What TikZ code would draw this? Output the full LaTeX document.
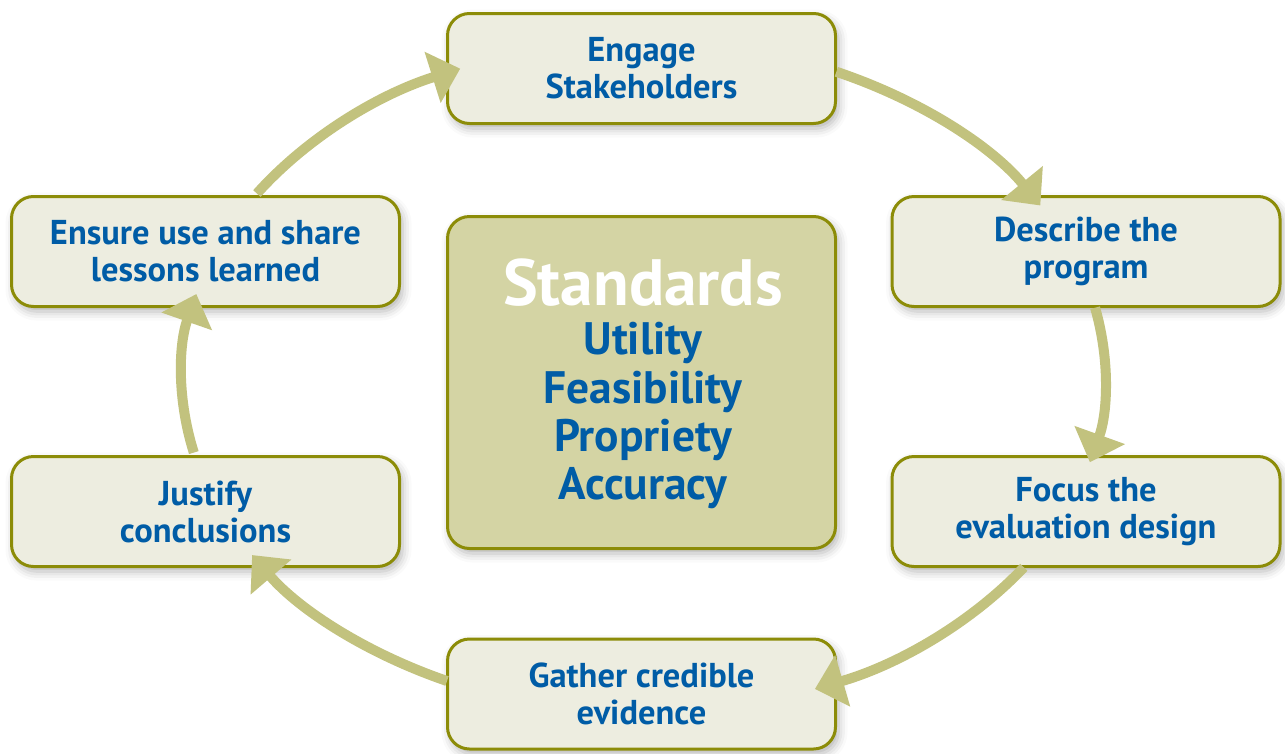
\documentclass[tikz,border=0pt]{standalone}
\usepackage{fontspec}
\setmainfont{PT Sans}
\usetikzlibrary{arrows.meta,calc,shadows.blur}
\definecolor{boxfill}{RGB}{237,237,224}
\definecolor{boxline}{RGB}{140,140,8}
\definecolor{centerfill}{RGB}{212,212,164}
\definecolor{arrowcol}{RGB}{194,194,126}
\definecolor{txtblue}{RGB}{0,92,166}
\tikzset{
  stepbox/.style={draw=boxline, line width=3pt, fill=boxfill, rounded corners=22pt,
    minimum width=388pt, minimum height=110pt, inner sep=0pt, align=center,
    text=txtblue, font=\bfseries\fontsize{34.5}{37}\selectfont,
    blur shadow={shadow xshift=3pt, shadow yshift=-5pt, shadow blur radius=9pt, shadow opacity=30}},
  centerbox/.style={draw=boxline, line width=3pt, fill=centerfill, rounded corners=22pt,
    minimum width=388pt, minimum height=332pt, inner sep=0pt,
    blur shadow={shadow xshift=3pt, shadow yshift=-5pt, shadow blur radius=9pt, shadow opacity=30}},
  stdline/.style={anchor=base, text=txtblue, font=\bfseries\fontsize{45.5}{48}\selectfont, inner sep=0pt},
  flow/.style={draw=arrowcol, line width=10pt, -{Triangle[length=29pt,width=52pt]}},
}
\begin{document}
\begin{tikzpicture}[x=1pt,y=1pt]
\useasboundingbox (0,0) rectangle (1285,-753);
\coordinate (c) at (643.5,-377);
% boxes
\node[stepbox] (eng) at (641.5,-68.5) {Engage\\Stakeholders};
\node[stepbox] (desc) at (1086,-251.5) {Describe the\\program};
\node[stepbox] (focus) at (1086,-511.5) {Focus the\\evaluation design};
\node[stepbox] (gather) at (641.5,-694) {Gather credible\\evidence};
\node[stepbox] (just) at (205.5,-511.5) {Justify\\conclusions};
\node[stepbox] (ens) at (205.5,-251.5) {Ensure use and share\\lessons learned};
\node[centerbox] (std) at (641.5,-382.5) {};
\node[anchor=base, text=white, font=\bfseries\fontsize{65.5}{68}\selectfont, inner sep=0pt] (stdt) at (643,-305) {Standards};
\node[stdline] (u) at (643,-354) {Utility};
\node[stdline] (f) at (643,-403) {Feasibility};
\node[stdline] (p) at (643,-451) {Propriety};
\node[stdline] (a) at (643,-499) {Accuracy};
% arc start points on the cycle ellipse
\coordinate (s1) at ($(c)+(65.3:461.5pt and 336pt)$);
\coordinate (s2) at ($(c)+(11.9:461.5pt and 336pt)$);
\coordinate (s3) at ($(c)+(-34.5:461.5pt and 336pt)$);
\coordinate (s4) at ($(c)+(-115.2:461.5pt and 336pt)$);
\coordinate (s5) at ($(c)+(193:461.5pt and 336pt)$);
\coordinate (s6) at ($(c)+(146.9:461.5pt and 336pt)$);
\draw[flow] (s1) arc[start angle=65.3, end angle=30.7, x radius=461.5pt, y radius=336pt];
\draw[flow] (s2) arc[start angle=11.9, end angle=-14.7, x radius=461.5pt, y radius=336pt];
\draw[flow] (s3) arc[start angle=-34.5, end angle=-68.2, x radius=461.5pt, y radius=336pt];
\draw[flow] (s4) arc[start angle=-115.2, end angle=-148, x radius=461.5pt, y radius=336pt];
\draw[flow] (s5) arc[start angle=193, end angle=165.7, x radius=461.5pt, y radius=336pt];
\draw[flow] (s6) arc[start angle=146.9, end angle=113.4, x radius=461.5pt, y radius=336pt];
\end{tikzpicture}
\end{document}
